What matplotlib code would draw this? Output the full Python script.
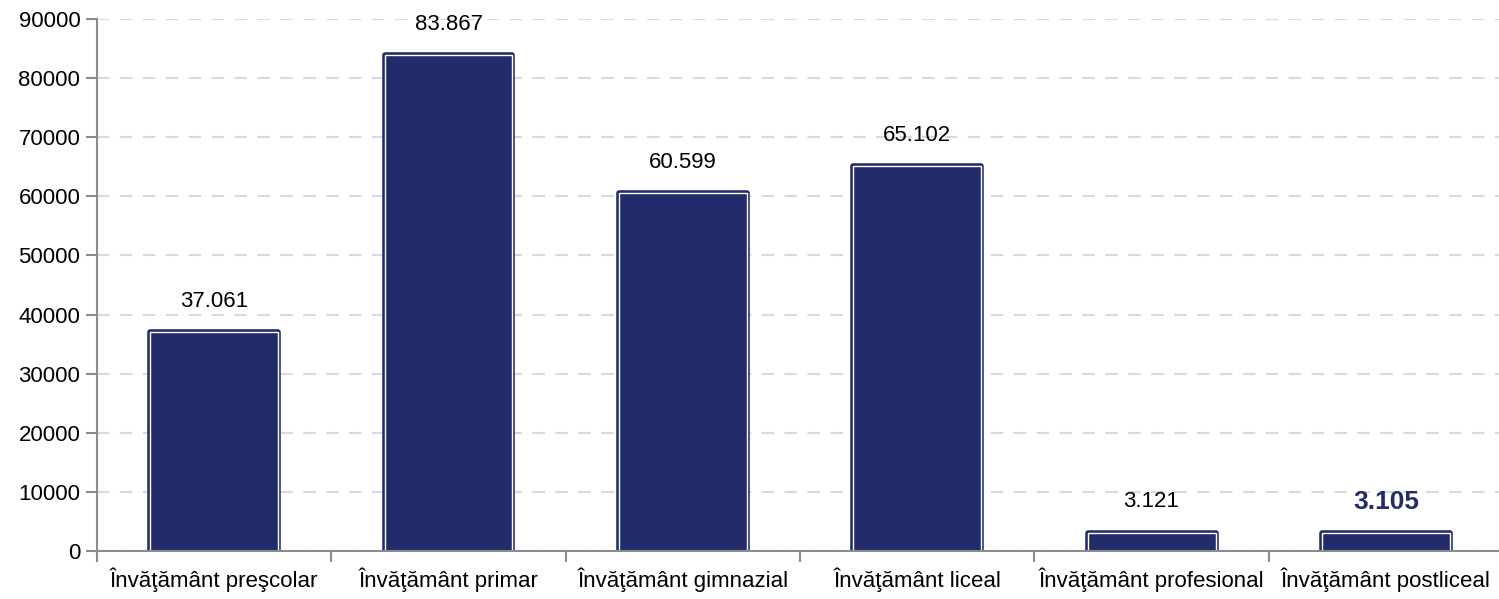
import matplotlib.pyplot as plt

# date
categorii = ['Învăţământ preşcolar', 'Învăţământ primar', 'Învăţământ gimnazial',
             'Învăţământ liceal', 'Învăţământ profesional', 'Învăţământ postliceal']
valori = [37061, 83867, 60599, 65102, 3121, 3105]
etichete = ['37.061', '83.867', '60.599', '65.102', '3.121', '3.105']
y_ticks = list(range(0, 90001, 10000))

plt.rcParams['font.family'] = ['Liberation Sans', 'DejaVu Sans']

navy = '#232C6B'
grey = '#8C8C8C'

fig = plt.figure(figsize=(14.99, 5.99), dpi=100)
ax = fig.add_axes([0.0647, 0.0801, 0.938, 0.8882])

x = range(len(categorii))
ax.bar(x, valori, width=0.546, color=navy, edgecolor=navy, linewidth=4, joinstyle='round', zorder=3)
ax.bar(x, valori, width=0.546, fill=False, edgecolor='white', linewidth=1, zorder=4)

for i, (v, t) in enumerate(zip(valori, etichete)):
    if i == len(valori) - 1:
        ax.text(i, v + 5200, t, ha='center', va='center', fontsize=19, fontweight='bold', color=navy)
    else:
        ax.text(i, v + 5200, t, ha='center', va='center', fontsize=16, color='black')

ax.set_xlim(-0.5, len(categorii) - 0.5)
ax.set_ylim(0, 90000)
ax.set_yticks(y_ticks)
ax.set_yticklabels([str(v) for v in y_ticks], fontsize=16)
ax.set_xticks([i - 0.5 for i in range(len(categorii) + 1)])
ax.set_xticklabels([])
ax.set_xticks(list(x), minor=True)
ax.set_xticklabels(categorii, minor=True, fontsize=16)
ax.tick_params(axis='x', which='minor', length=0, pad=12)
ax.tick_params(axis='x', which='major', length=8, color=grey, width=1.5)
ax.tick_params(axis='y', length=8, color=grey, width=1.5, pad=4)

ax.grid(axis='y', color='#D9D9D9', linestyle=(0, (6, 5)), linewidth=1.5, zorder=0)
for s in ['top', 'right']:
    ax.spines[s].set_visible(False)
for s in ['left', 'bottom']:
    ax.spines[s].set_color(grey)
    ax.spines[s].set_linewidth(1.5)
ax.spines['bottom'].set_zorder(5)

fig.savefig('out.png', dpi=100)
